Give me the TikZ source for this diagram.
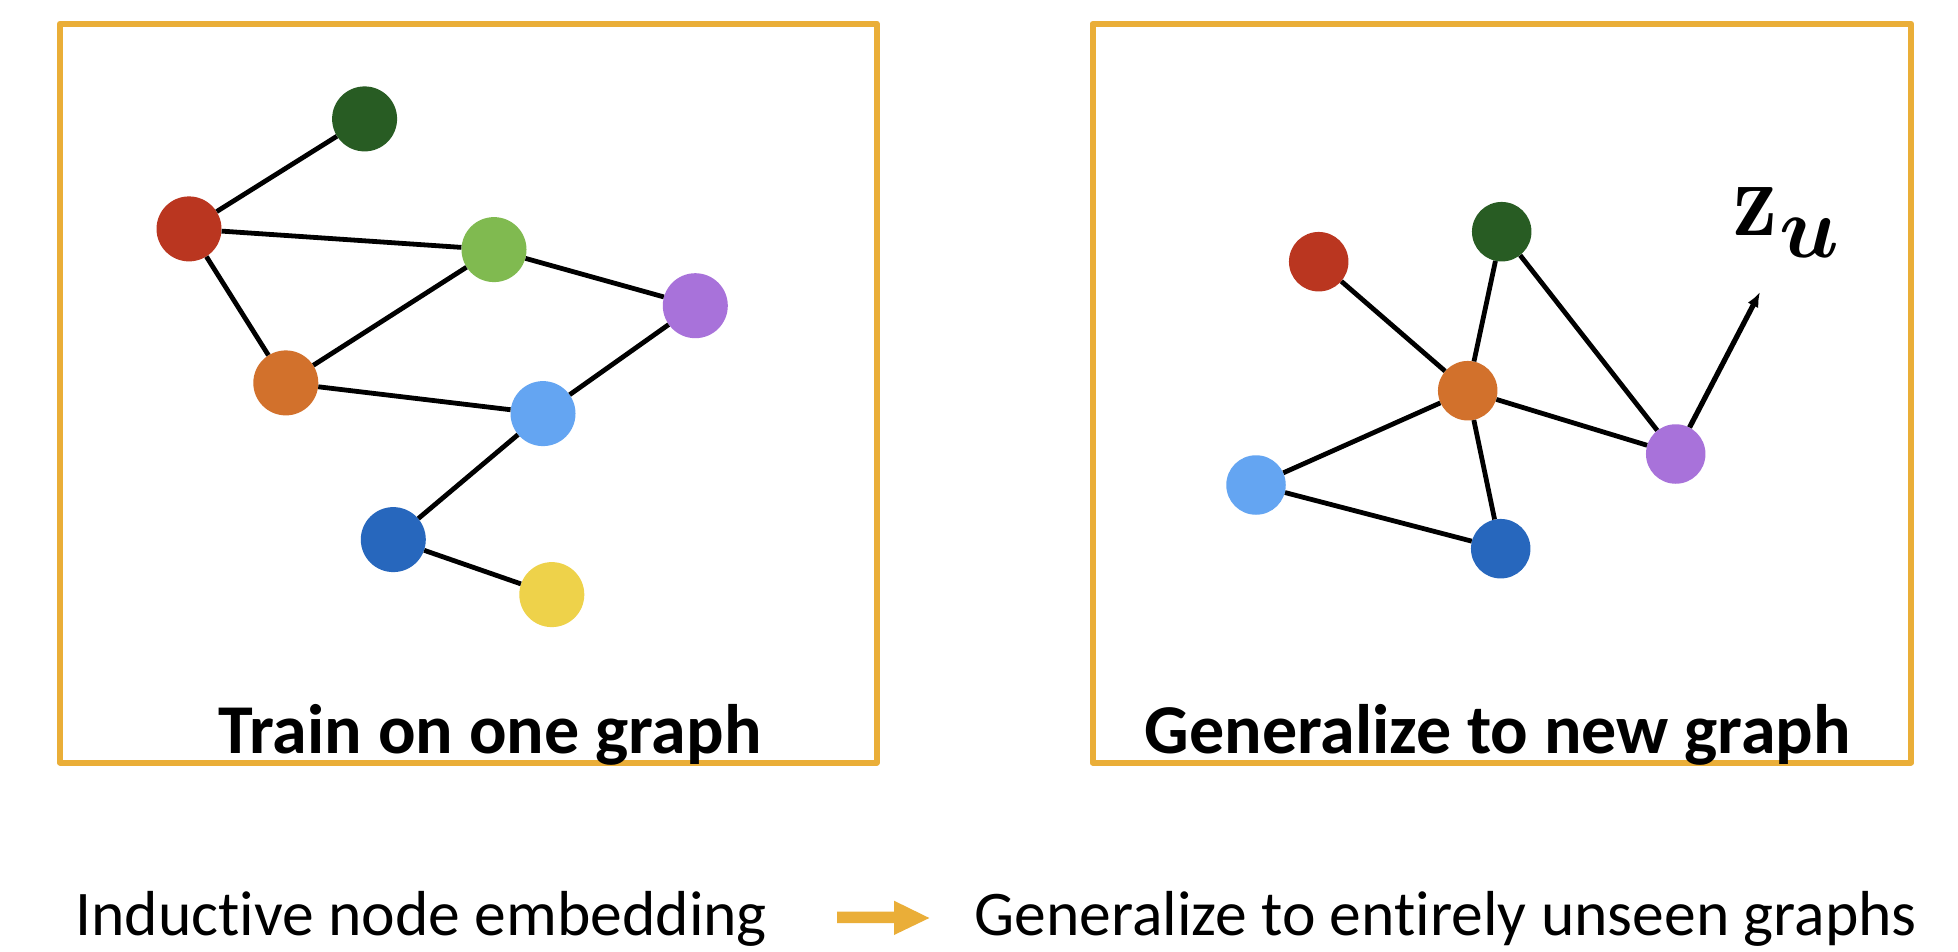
\documentclass[tikz,border=0pt]{standalone}
\usepackage{graphicx}
\usepackage[no-math]{fontspec}
\setmainfont[Ligatures=NoCommon]{Carlito}
\usetikzlibrary{arrows.meta}
\definecolor{boxor}{HTML}{EAAE38}
\definecolor{cdg}{HTML}{285C23}
\definecolor{cred}{HTML}{BA3620}
\definecolor{clg}{HTML}{80BA50}
\definecolor{cpu}{HTML}{A872DA}
\definecolor{cor}{HTML}{D2712C}
\definecolor{clb}{HTML}{64A5F2}
\definecolor{cbl}{HTML}{2767BD}
\definecolor{cye}{HTML}{EED24A}
\begin{document}
\begin{tikzpicture}[x=1pt,y=-1pt,
  gnode/.style={circle,inner sep=0pt,minimum size=65pt,draw=none},
  rnode/.style={circle,inner sep=0pt,minimum size=59.5pt,draw=none},
  edge/.style={line width=4.8pt,black},
  frame/.style={draw=boxor,line width=6pt,line join=round},
  title/.style={font=\fontsize{70}{80}\selectfont\bfseries,inner sep=0pt,anchor=base},
  caption/.style={font=\fontsize{63.6}{72}\selectfont,inner sep=0pt,anchor=base west}]
\useasboundingbox[fill=white] (0,0) rectangle (1958,952);
% frames
\draw[frame] (60,23.7) rectangle (876.6,762.5);
\draw[frame] (1092.6,23.7) rectangle (1911,762.5);
% left graph
\node[gnode,fill=cdg] (ldg) at (364.6,118.9) {};
\node[gnode,fill=cred] (lred) at (189,228.9) {};
\node[gnode,fill=clg] (llg) at (494,249.6) {};
\node[gnode,fill=cpu] (lpu) at (695.3,305.7) {};
\node[gnode,fill=cor] (lor) at (285.8,382.9) {};
\node[gnode,fill=clb] (llb) at (543,413.6) {};
\node[gnode,fill=cbl] (lbl) at (393.3,539.6) {};
\node[gnode,fill=cye] (lye) at (551.8,594.6) {};
\draw[edge] (ldg) -- (lred);
\draw[edge] (lred) -- (llg);
\draw[edge] (lred) -- (lor);
\draw[edge] (llg) -- (lor);
\draw[edge] (llg) -- (lpu);
\draw[edge] (lor) -- (llb);
\draw[edge] (lpu) -- (llb);
\draw[edge] (llb) -- (lbl);
\draw[edge] (lbl) -- (lye);
% right graph
\node[rnode,fill=cred] (rred) at (1318.7,261.7) {};
\node[rnode,fill=cdg] (rdg) at (1501.7,231.7) {};
\node[rnode,fill=cor] (ror) at (1467.7,390.7) {};
\node[rnode,fill=cpu] (rpu) at (1675.7,454) {};
\node[rnode,fill=clb] (rlb) at (1256,485) {};
\node[rnode,fill=cbl] (rbl) at (1500.7,548.7) {};
\draw[edge] (rred) -- (ror);
\draw[edge] (rdg) -- (ror);
\draw[edge] (rdg) -- (rpu);
\draw[edge] (ror) -- (rpu);
\draw[edge] (ror) -- (rlb);
\draw[edge] (ror) -- (rbl);
\draw[edge] (rlb) -- (rbl);
\coordinate (ztip) at (1760,292);
\draw[line width=5.2pt,-{Latex[length=15pt,width=12pt]}] (rpu) -- (ztip);
\node[inner sep=0pt,anchor=base west] (zu) at (1733,235)
  {\scalebox{8.6}[10.8]{$\mathbf{z}$}\hspace{2pt}\raisebox{-23pt}{\scalebox{8.8}{\boldmath$u$}}};
% titles
\node[title] (t1) at (490,753) {Train on one graph};
\node[title] (t2) at (1497.8,753) {Generalize to new graph};
% bottom
\node[caption] (c1) at (75,935) {Inductive node embedding};
\node[caption] (c2) at (974,935) {Generalize to entirely unseen graphs};
\fill[boxor] (837,911.5) -- (894,911.5) -- (894,900.7) -- (929.3,918) -- (894,935) -- (894,923) -- (837,923) -- cycle;
\end{tikzpicture}
\end{document}
